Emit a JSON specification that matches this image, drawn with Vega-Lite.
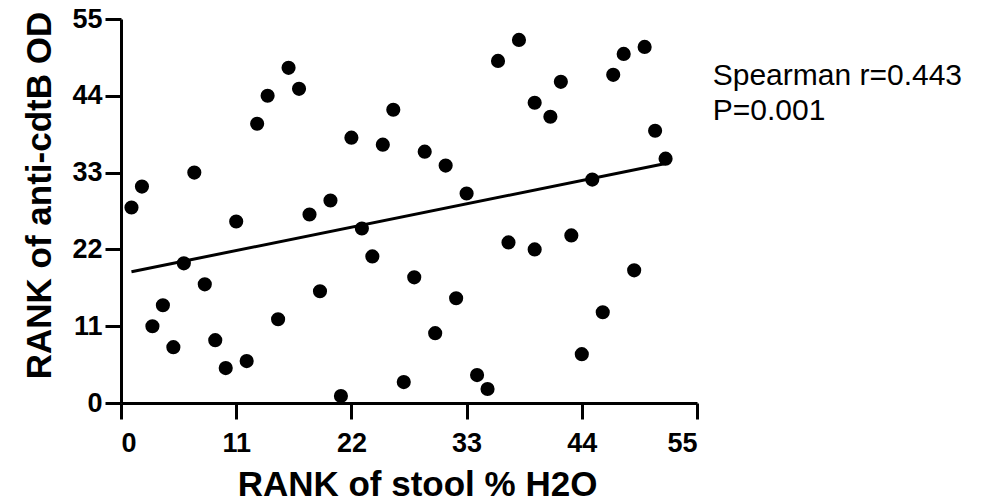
{
  "$schema": "https://vega.github.io/schema/vega-lite/v6.json",
  "autosize": {"type": "none"},
  "padding": {"left": 121, "top": 19, "right": 287, "bottom": 99},
  "width": 576,
  "height": 384,
  "background": "white",
  "config": {
    "view": {"stroke": null},
    "font": "Liberation Sans",
    "axis": {
      "grid": false,
      "domainColor": "black",
      "domainWidth": 3,
      "tickColor": "black",
      "tickWidth": 3,
      "tickSize": 16,
      "labelFont": "Liberation Sans",
      "labelFontWeight": "bold",
      "labelFontSize": 27,
      "labelColor": "black",
      "titleFont": "Liberation Sans",
      "titleFontWeight": "bold",
      "titleFontSize": 35,
      "titleColor": "black"
    }
  },
  "datasets": {
    "ranks": [
      {"stool": 1, "od": 28}, {"stool": 2, "od": 31}, {"stool": 3, "od": 11},
      {"stool": 4, "od": 14}, {"stool": 5, "od": 8}, {"stool": 6, "od": 20},
      {"stool": 7, "od": 33}, {"stool": 8, "od": 17}, {"stool": 9, "od": 9},
      {"stool": 10, "od": 5}, {"stool": 11, "od": 26}, {"stool": 12, "od": 6},
      {"stool": 13, "od": 40}, {"stool": 14, "od": 44}, {"stool": 15, "od": 12},
      {"stool": 16, "od": 48}, {"stool": 17, "od": 45}, {"stool": 18, "od": 27},
      {"stool": 19, "od": 16}, {"stool": 20, "od": 29}, {"stool": 21, "od": 1},
      {"stool": 22, "od": 38}, {"stool": 23, "od": 25}, {"stool": 24, "od": 21},
      {"stool": 25, "od": 37}, {"stool": 26, "od": 42}, {"stool": 27, "od": 3},
      {"stool": 28, "od": 18}, {"stool": 29, "od": 36}, {"stool": 30, "od": 10},
      {"stool": 31, "od": 34}, {"stool": 32, "od": 15}, {"stool": 33, "od": 30},
      {"stool": 34, "od": 4}, {"stool": 35, "od": 2}, {"stool": 36, "od": 49},
      {"stool": 37, "od": 23}, {"stool": 38, "od": 52}, {"stool": 39.5, "od": 43},
      {"stool": 39.5, "od": 22}, {"stool": 41, "od": 41}, {"stool": 42, "od": 46},
      {"stool": 43, "od": 24}, {"stool": 44, "od": 7}, {"stool": 45, "od": 32},
      {"stool": 46, "od": 13}, {"stool": 47, "od": 47}, {"stool": 48, "od": 50},
      {"stool": 49, "od": 19}, {"stool": 50, "od": 51}, {"stool": 51, "od": 39},
      {"stool": 52, "od": 35}
    ],
    "fit": [
      {"stool": 1, "od": 18.8},
      {"stool": 52, "od": 34.3}
    ],
    "stats": [
      {"stool": 56.5, "od": 45.5, "label": "Spearman r=0.443"},
      {"stool": 56.5, "od": 40.5, "label": "P=0.001"}
    ]
  },
  "encoding": {
    "x": {
      "field": "stool",
      "type": "quantitative",
      "scale": {"domain": [0, 55], "nice": false, "zero": false},
      "axis": {"values": [0, 11, 22, 33, 44, 55], "title": "RANK of stool % H2O", "labelPadding": 11, "titlePadding": 11, "titleX": 296}
    },
    "y": {
      "field": "od",
      "type": "quantitative",
      "scale": {"domain": [0, 55], "nice": false, "zero": false},
      "axis": {"values": [0, 11, 22, 33, 44, 55], "title": "RANK of anti-cdtB OD", "labelPadding": 3, "titlePadding": 14, "titleY": 176}
    }
  },
  "layer": [
    {
      "data": {"name": "fit"},
      "mark": {"type": "line", "color": "black", "strokeWidth": 3, "clip": false}
    },
    {
      "data": {"name": "ranks"},
      "mark": {"type": "circle", "size": 200, "color": "black", "opacity": 1, "clip": false}
    },
    {
      "data": {"name": "stats"},
      "mark": {"type": "text", "align": "left", "baseline": "alphabetic", "font": "Liberation Sans", "fontSize": 30, "color": "black", "clip": false},
      "encoding": {"text": {"field": "label"}}
    }
  ]
}
